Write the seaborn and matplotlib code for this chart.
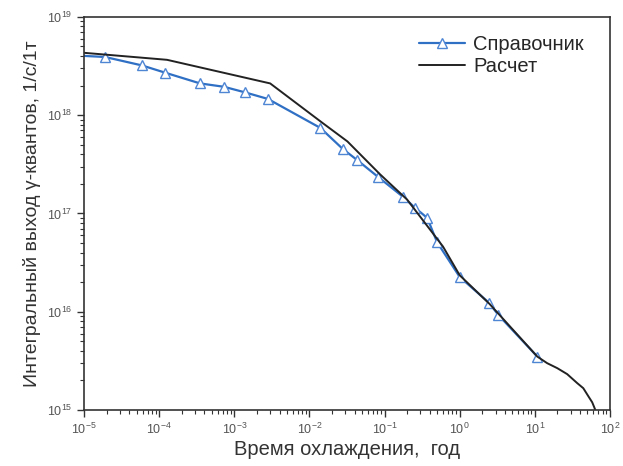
import numpy as np
import pandas as pd

import matplotlib
matplotlib.use("Agg")
import matplotlib.pyplot as plt
from matplotlib.ticker import LogLocator, LogFormatterSciNotation, NullFormatter

import seaborn as sns

# reference data (Справочник)
ref_time = [1.0e-5, 1.9e-5, 5.9e-5, 1.2e-4, 3.5e-4, 7.3e-4, 1.4e-3, 2.8e-3,
            1.4e-2, 2.8e-2, 4.3e-2, 8.2e-2, 0.177, 0.255, 0.37, 0.5,
            1.0, 2.47, 3.26, 10.8]
ref_yield = [4.0e18, 3.9e18, 3.2e18, 2.7e18, 2.1e18, 1.94e18, 1.7e18, 1.46e18,
             7.4e17, 4.5e17, 3.5e17, 2.35e17, 1.47e17, 1.14e17, 9.0e16, 5.1e16,
             2.26e16, 1.23e16, 9.3e15, 3.5e15]

# calculation (Расчет)
calc_time = [1.0e-5, 1.27e-4, 3.0e-3, 1.5e-2, 3.2e-2, 8.7e-2, 0.2, 0.6,
             1.0, 2.5, 10.8, 14.6, 19.9, 27.0, 36.7, 44.2, 51.4, 58.1, 61.8, 64.0]
calc_yield = [4.3e18, 3.65e18, 2.1e18, 8.3e17, 5.4e17, 2.5e17, 1.38e17, 4.6e16,
              2.35e16, 1.2e16, 3.5e15, 3.0e15, 2.67e15, 2.32e15, 1.88e15, 1.67e15,
              1.39e15, 1.2e15, 1.07e15, 1.0e15]

ref_df = pd.DataFrame({"t": ref_time, "y": ref_yield})
calc_df = pd.DataFrame({"t": calc_time, "y": calc_yield})

sns.set_style("ticks")
plt.rcParams["font.family"] = ["Liberation Sans", "DejaVu Sans"]

fig = plt.figure(figsize=(6.23, 4.66), dpi=100)
ax = fig.add_axes([0.135, 0.12, 0.844, 0.844])

blue = "#2f6fc4"
sns.lineplot(
    x="t", y="y", data=ref_df, ax=ax, color=blue, linewidth=1.6,
    marker="^", markersize=7, markerfacecolor="white",
    markeredgecolor="#4f86d4", markeredgewidth=1.0, label="Справочник",
    markevery=list(range(1, len(ref_time))),
)
sns.lineplot(
    x="t", y="y", data=calc_df, ax=ax, color="#222222", linewidth=1.4,
    label="Расчет",
)

ax.set_xscale("log")
ax.set_yscale("log")
ax.set_xlim(1e-5, 1e2)
ax.set_ylim(1e15, 1e19)

ax.xaxis.set_major_locator(LogLocator(base=10, numticks=20))
ax.xaxis.set_minor_locator(LogLocator(base=10, subs=np.arange(2, 10), numticks=100))
ax.yaxis.set_major_locator(LogLocator(base=10, numticks=20))
ax.yaxis.set_minor_locator(LogLocator(base=10, subs=np.arange(2, 10), numticks=100))
ax.xaxis.set_major_formatter(LogFormatterSciNotation())
ax.yaxis.set_major_formatter(LogFormatterSciNotation())
ax.xaxis.set_minor_formatter(NullFormatter())
ax.yaxis.set_minor_formatter(NullFormatter())

ax.tick_params(which="major", direction="out", length=5, width=1,
               labelsize=9, labelcolor="#555555", color="#333333")
ax.tick_params(which="minor", direction="out", length=3, width=0.8,
               color="#333333")
for side in ["left", "right", "top", "bottom"]:
    ax.spines[side].set_color("#333333")
    ax.spines[side].set_linewidth(1.2)

ax.set_xlabel("Время охлаждения,  год", fontsize=14.5, color="#333333", labelpad=2)
ax.set_ylabel("Интегральный выход γ-квантов, 1/с/1т", fontsize=14, color="#333333",
              labelpad=4)

ax.legend(loc="upper right", bbox_to_anchor=(0.985, 1.0), frameon=False,
          fontsize=14.5, handlelength=2.3, handletextpad=0.4, labelspacing=0.15)

fig.savefig("out.png", dpi=100)
